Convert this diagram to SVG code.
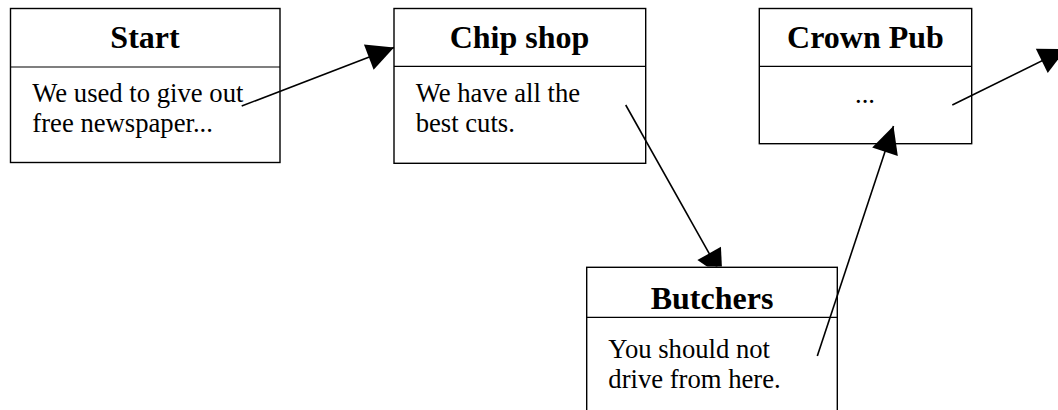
<svg xmlns="http://www.w3.org/2000/svg" width="1058" height="410" viewBox="0 0 1058 410">
  <style>
    .box { fill: #ffffff; stroke: #000000; stroke-width: 1.4; }
    .div { stroke: #000000; stroke-width: 1.2; }
    .title { font-family: "Liberation Serif", "Times New Roman", serif; font-weight: bold; font-size: 32px; text-anchor: middle; fill: #000; }
    .body { font-family: "Liberation Serif", "Times New Roman", serif; font-size: 26.67px; fill: #000; }
    .conn { fill: none; stroke: #000000; stroke-width: 1.6; }
  </style>
  <defs>
    <marker id="arrow" markerUnits="userSpaceOnUse" markerWidth="28" markerHeight="28" refX="27" refY="13.5" orient="auto" overflow="visible">
      <path d="M0,0 L27,13.5 L0,27 z" fill="#000000"/>
    </marker>
    <clipPath id="aboveButchers">
      <rect x="0" y="0" width="1058" height="266.5"/>
    </clipPath>
  </defs>

  <g id="node-start">
    <rect class="box" x="10.5" y="8.5" width="269.5" height="154"/>
    <line class="div" x1="10.5" y1="67" x2="280" y2="67"/>
    <text class="title" x="145" y="48">Start</text>
    <text class="body" x="32.3" y="101.7">We used to give out</text>
    <text class="body" x="32.3" y="131.5">free newspaper...</text>
  </g>

  <g id="node-chip">
    <rect class="box" x="394" y="8.5" width="251.7" height="154.8"/>
    <line class="div" x1="394" y1="66.3" x2="645.7" y2="66.3"/>
    <text class="title" x="519.5" y="48">Chip shop</text>
    <text class="body" x="415.7" y="101.7">We have all the</text>
    <text class="body" x="415.7" y="131.5">best cuts.</text>
  </g>

  <g id="node-crown">
    <rect class="box" x="759.3" y="8.5" width="212.4" height="135.2"/>
    <line class="div" x1="759.3" y1="66.3" x2="971.7" y2="66.3"/>
    <text class="title" x="865.5" y="48">Crown Pub</text>
    <text class="body" x="865" y="103" text-anchor="middle">...</text>
  </g>

  <g id="node-butchers">
    <rect class="box" x="586.7" y="267.3" width="250.6" height="160"/>
    <line class="div" x1="586.7" y1="317.3" x2="837.3" y2="317.3"/>
    <text class="title" x="712" y="309">Butchers</text>
    <text class="body" x="608.3" y="357.5">You should not</text>
    <text class="body" x="608.3" y="387.8">drive from here.</text>
  </g>

  <g id="connectors">
    <path id="c-start-chip" class="conn" d="M241.7,106 L394,47.5" marker-end="url(#arrow)"/>
    <path id="c-chip-butchers" class="conn" d="M625.7,105 L722.4,277" marker-end="url(#arrow)" clip-path="url(#aboveButchers)"/>
    <path id="c-butchers-crown" class="conn" d="M817.3,356 L893.5,126" marker-end="url(#arrow)"/>
    <path id="c-crown-out" class="conn" d="M952.3,105 L1066,49" marker-end="url(#arrow)"/>
  </g>
</svg>
